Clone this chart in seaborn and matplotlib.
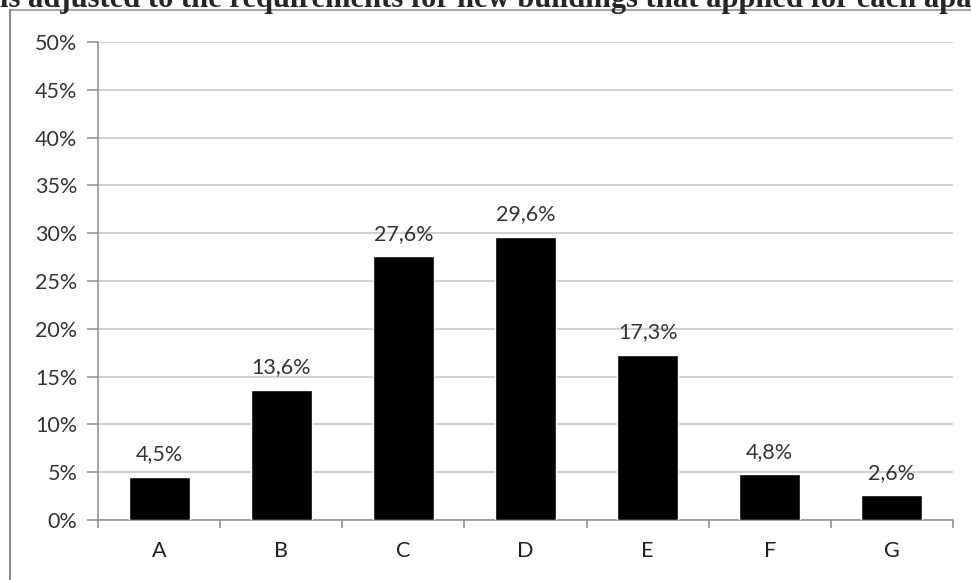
import matplotlib
matplotlib.use("Agg")
import matplotlib.pyplot as plt
import seaborn as sns
import pandas as pd
from matplotlib.lines import Line2D
from matplotlib.ticker import FixedLocator, FuncFormatter

# Share of apartments per energy class
categories = ["A", "B", "C", "D", "E", "F", "G"]
shares = [4.5, 13.6, 27.6, 29.6, 17.3, 4.8, 2.6]
value_labels = ["4,5%", "13,6%", "27,6%", "29,6%", "17,3%", "4,8%", "2,6%"]
y_ticks = [0, 5, 10, 15, 20, 25, 30, 35, 40, 45, 50]
title_text = "is adjusted to the requirements for new buildings that applied for each apartment"

sns.set_theme(style="white")
plt.rcParams["font.family"] = ["Lato", "DejaVu Sans"]

df = pd.DataFrame({"category": categories, "share": shares})

fig = plt.figure(figsize=(9.71, 5.80), dpi=100)
ax = fig.add_axes([98 / 971, 60 / 580, 855 / 971, 478 / 580])

sns.barplot(data=df, x="category", y="share", color="black", width=0.5,
            saturation=1, ax=ax, zorder=3)

ax.set_xlim(-0.5, len(categories) - 0.5)
ax.set_ylim(0, 50)
ax.yaxis.set_major_locator(FixedLocator(y_ticks))
ax.yaxis.set_major_formatter(FuncFormatter(lambda v, _: f"{int(v)}%"))
ax.grid(axis="y", color="#c4c4c4", linewidth=1.1, zorder=0)
ax.set_axisbelow(True)
ax.set_xlabel("")
ax.set_ylabel("")

for side in ("top", "right"):
    ax.spines[side].set_visible(False)
for side in ("left", "bottom"):
    ax.spines[side].set_color("#8c8c8c")
    ax.spines[side].set_linewidth(1.1)

# category boundary ticks on the x axis
ax.xaxis.set_minor_locator(FixedLocator([i - 0.5 for i in range(len(categories) + 1)]))
ax.tick_params(axis="x", which="major", length=0, pad=15, labelsize=15.5, labelcolor="#1e1e1e")
ax.tick_params(axis="x", which="minor", bottom=True, length=6, width=1.1, color="#8c8c8c")
ax.tick_params(axis="y", left=True, length=8, width=1.1, color="#8c8c8c",
               pad=7, labelsize=15.5, labelcolor="#333333")

for patch, lab in zip(ax.patches, value_labels):
    ax.annotate(lab, (patch.get_x() + patch.get_width() / 2, patch.get_height()),
                xytext=(0, 9), textcoords="offset points", ha="center", va="bottom",
                fontsize=15.5, color="#333333")

# chart frame
fig.add_artist(Line2D([10 / 971, 1.0], [1 - 10 / 580, 1 - 10 / 580],
                      transform=fig.transFigure, color="#a6a6a6", linewidth=1.5))
fig.add_artist(Line2D([10 / 971, 10 / 971], [0, 1 - 10 / 580],
                      transform=fig.transFigure, color="#8c8c8c", linewidth=1.5))

# heading running above the frame
fig.text(0.0, 1 - 7 / 580, title_text, ha="left", va="baseline",
         fontsize=22, fontweight="bold", family=["Liberation Serif", "DejaVu Serif"])

fig.savefig("out.png", dpi=100)
